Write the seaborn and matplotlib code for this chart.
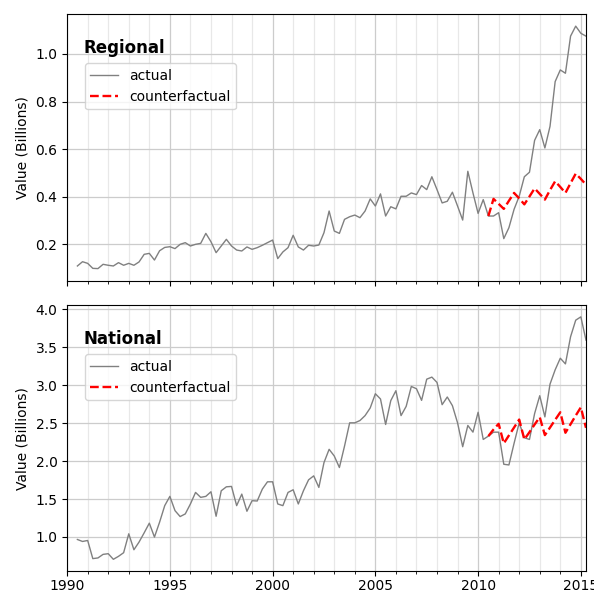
import matplotlib
matplotlib.use('Agg')
import matplotlib.pyplot as plt
from matplotlib.ticker import MultipleLocator
import seaborn as sns
import numpy as np
import pandas as pd

# quarterly series, Q3 1990 .. Q2 2015
years = 1990.5 + 0.25 * np.arange(100)

regional_actual = [
    0.109, 0.127, 0.120, 0.099, 0.098, 0.116, 0.112, 0.109, 0.123, 0.112,
    0.120, 0.112, 0.126, 0.158, 0.162, 0.134, 0.173, 0.187, 0.190, 0.182,
    0.200, 0.207, 0.193, 0.200, 0.204, 0.246, 0.211, 0.165, 0.193, 0.221,
    0.193, 0.176, 0.172, 0.189, 0.179, 0.186, 0.196, 0.207, 0.218, 0.140,
    0.168, 0.186, 0.238, 0.189, 0.176, 0.196, 0.193, 0.197, 0.249, 0.340,
    0.256, 0.246, 0.305, 0.316, 0.323, 0.312, 0.340, 0.391, 0.361, 0.412,
    0.319, 0.358, 0.349, 0.402, 0.402, 0.416, 0.409, 0.447, 0.430, 0.484,
    0.430, 0.374, 0.381, 0.419, 0.361, 0.302, 0.507, 0.416, 0.330, 0.388,
    0.319, 0.319, 0.333, 0.224, 0.270, 0.347, 0.402, 0.484, 0.503, 0.637,
    0.682, 0.605, 0.696, 0.884, 0.933, 0.919, 1.075, 1.117, 1.087, 1.075,
]
regional_counter = [
    0.319, 0.391, 0.370, 0.349, 0.383, 0.416, 0.393, 0.368, 0.401, 0.435,
    0.412, 0.388, 0.428, 0.465, 0.441, 0.416, 0.457, 0.497, 0.475, 0.451,
]

national_actual = [
    0.967, 0.941, 0.954, 0.715, 0.724, 0.771, 0.780, 0.706, 0.745, 0.793,
    1.042, 0.832, 0.933, 1.055, 1.182, 0.999, 1.195, 1.413, 1.535, 1.347,
    1.269, 1.304, 1.435, 1.587, 1.522, 1.535, 1.596, 1.273, 1.609, 1.661,
    1.666, 1.413, 1.565, 1.339, 1.478, 1.474, 1.631, 1.727, 1.727, 1.435,
    1.413, 1.587, 1.622, 1.435, 1.609, 1.753, 1.805, 1.653, 1.980, 2.155,
    2.067, 1.915, 2.198, 2.504, 2.504, 2.534, 2.599, 2.700, 2.887, 2.818,
    2.482, 2.796, 2.927, 2.599, 2.721, 2.983, 2.953, 2.800, 3.079, 3.106,
    3.036, 2.743, 2.844, 2.730, 2.504, 2.189, 2.469, 2.381, 2.643, 2.285,
    2.329, 2.381, 2.381, 1.958, 1.949, 2.233, 2.504, 2.307, 2.285, 2.626,
    2.861, 2.582, 3.014, 3.202, 3.355, 3.280, 3.638, 3.856, 3.900, 3.594,
]
national_counter = [
    2.329, 2.416, 2.491, 2.233, 2.338, 2.442, 2.547, 2.285, 2.381, 2.482,
    2.578, 2.342, 2.442, 2.543, 2.643, 2.373, 2.486, 2.599, 2.708, 2.438,
]

panels = [
    ('Regional', regional_actual, regional_counter),
    ('National', national_actual, national_counter),
]

fig, axes = plt.subplots(2, 1, figsize=(5.94, 5.94), dpi=100, sharex=True)
fig.subplots_adjust(left=0.113, right=0.9865, top=0.9764, bottom=0.038, hspace=0.09)

for ax, (name, actual, counter) in zip(axes, panels):
    df_a = pd.DataFrame({'year': years, 'value': actual})
    df_c = pd.DataFrame({'year': years[-len(counter):], 'value': counter})
    sns.lineplot(data=df_a, x='year', y='value', ax=ax, color='grey',
                 lw=1, estimator=None, label='actual')
    sns.lineplot(data=df_c, x='year', y='value', ax=ax, color='red',
                 lw=1.7, ls='--', estimator=None, label='counterfactual')
    ax.set_xlim(1990, 2015.25)
    ax.xaxis.set_major_locator(MultipleLocator(5))
    ax.xaxis.set_minor_locator(MultipleLocator(1))
    ax.grid(which='major', color='#cccccc', lw=0.9)
    ax.grid(which='minor', axis='x', color='#e8e8e8', lw=0.9)
    ax.set_axisbelow(True)
    ax.set_xlabel('')
    ax.set_ylabel('Value (Billions)')
    ax.text(0.031, 0.873, name, transform=ax.transAxes, fontsize=12,
            fontweight='bold', va='center', ha='left')
    ax.legend(loc='upper left', bbox_to_anchor=(0.034, 0.815),
              borderaxespad=0, fontsize=10)

axes[1].tick_params(axis='x', pad=2)

fig.savefig('out.png', dpi=100)
